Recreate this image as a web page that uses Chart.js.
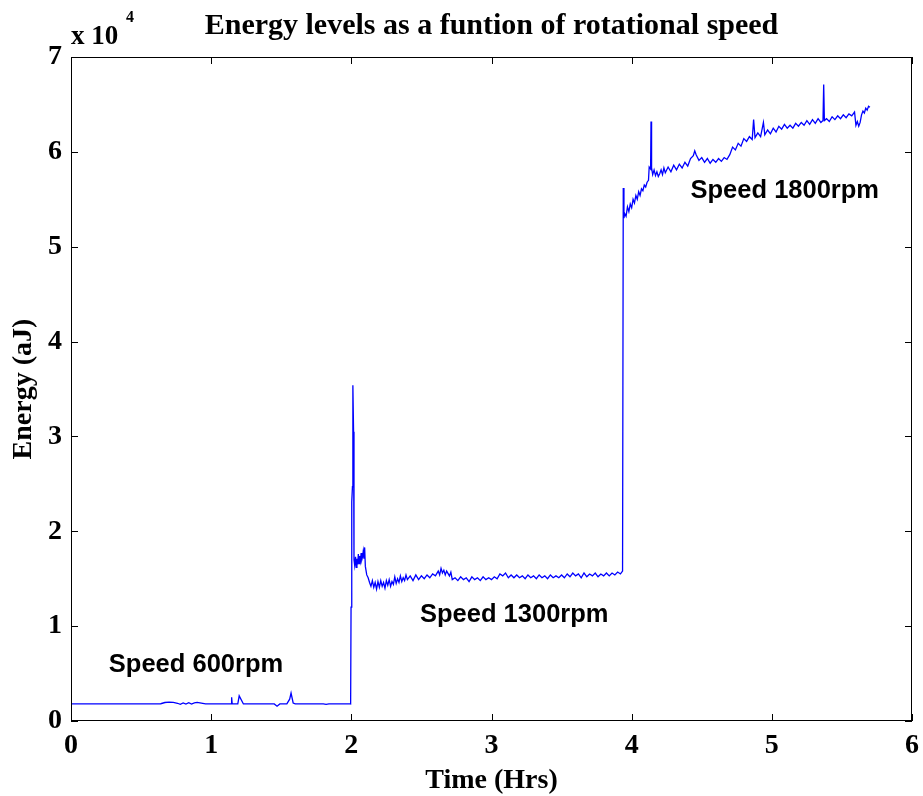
<!DOCTYPE html>
<html>
<head>
<meta charset="utf-8">
<title>Energy levels</title>
<script src="https://cdn.jsdelivr.net/npm/chart.js@4.4.1/dist/chart.umd.min.js"></script>
<style>
  html, body { margin: 0; padding: 0; background: #fff; }
  #wrap { width: 923px; height: 796px; }
</style>
</head>
<body>
<div id="wrap"><canvas id="myChart" width="923" height="796"></canvas></div>
<script>
'use strict';

// speed 600rpm part (time in hours, energy in aJ)
let t600 = [0, 0.30, 0.60, 0.64, 0.67, 0.70, 0.73, 0.76, 0.78, 0.80, 0.82, 0.84, 0.86, 0.88, 0.90, 0.93, 0.96,
  1.10, 1.143, 1.146, 1.15, 1.18, 1.19, 1.20, 1.23, 1.40, 1.45, 1.47, 1.49, 1.54, 1.56, 1.57, 1.585, 1.60,
  1.80, 1.82, 1.84, 1.993];
let e600 = [1800, 1800, 1800, 1820, 1950, 1980, 1960, 1870, 1760, 1900, 1780, 1930, 1790, 1920, 1960, 1880, 1800,
  1800, 1800, 2500, 1800, 1800, 1800, 2650, 1800, 1800, 1800, 1560, 1800, 1800, 2300, 2950, 1900, 1800,
  1800, 1750, 1800, 1810];

// speed 1300rpm part
let t1300 = [1.995, 1.998, 2.003, 2.008, 2.011, 2.016, 2.019, 2.024, 2.03, 2.035, 2.04, 2.045, 2.05, 2.055, 2.06,
  2.065, 2.07, 2.075, 2.08, 2.085, 2.09, 2.095, 2.10, 2.11, 2.12, 2.13,
  2.14, 2.15, 2.16, 2.17, 2.18, 2.19, 2.20, 2.21, 2.22, 2.23, 2.24, 2.25, 2.26, 2.27, 2.28, 2.29, 2.30,
  2.31, 2.32, 2.33, 2.34, 2.35, 2.36, 2.37, 2.38, 2.39, 2.40, 2.42, 2.44, 2.46, 2.48, 2.50, 2.52, 2.54,
  2.56, 2.58, 2.60, 2.62, 2.63, 2.64, 2.65, 2.66, 2.67, 2.68, 2.70, 2.71, 2.72, 2.74, 2.76, 2.78, 2.80,
  2.82, 2.84, 2.86, 2.88, 2.90, 2.92, 2.94, 2.96, 2.98, 3.00, 3.02, 3.04, 3.06, 3.08, 3.10, 3.12, 3.14,
  3.16, 3.18, 3.20, 3.22, 3.24, 3.26, 3.28, 3.30, 3.32, 3.34, 3.36, 3.38, 3.40, 3.42, 3.44, 3.46, 3.48,
  3.50, 3.52, 3.54, 3.56, 3.58, 3.60, 3.62, 3.64, 3.66, 3.68, 3.70, 3.72, 3.74, 3.76, 3.78, 3.80, 3.82,
  3.84, 3.86, 3.88, 3.90, 3.92, 3.935];
let e1300 = [1800, 12000, 23100, 24700, 35400, 30500, 17000, 16400, 17300, 16200, 17100, 16500, 17600, 16600, 17400,
  16900, 17700, 17000, 17300, 17900, 17100, 18300, 16300, 15400, 15100, 14600,
  14200, 14800, 14100, 14600, 13900, 14700, 14100, 14800, 14200, 14600, 14000, 14800, 14300, 14900, 14200, 14700, 14400,
  15200, 14500, 15000, 14600, 15300, 14700, 15100, 14800, 15400, 14900, 15300, 14800, 15400, 14900, 15300, 15000, 15400,
  15100, 15500, 15300, 15800, 15400, 16100, 15600, 15900, 15400, 15800, 15300, 15700, 14900, 15100, 14800, 15200, 14900,
  15100, 14700, 15200, 14900, 15100, 14800, 15200, 14900, 15100, 14900, 15200, 15000, 15500, 15300, 15600, 15100, 15400,
  15100, 15400, 15100, 15300, 15000, 15400, 15100, 15300, 15000, 15400, 15100, 15300, 15000, 15400, 15100, 15300, 15100,
  15400, 15100, 15500, 15200, 15600, 15300, 15500, 15100, 15600, 15200, 15500, 15300, 15600, 15200, 15500, 15300, 15600,
  15300, 15600, 15400, 15700, 15500, 15800];

// speed 1800rpm part
let t1800 = [3.94, 3.945, 3.95, 3.96, 3.97, 3.98, 3.99, 4.00, 4.01, 4.02, 4.03, 4.04, 4.05, 4.06, 4.07, 4.08, 4.09,
  4.10, 4.11, 4.12, 4.125, 4.135, 4.138, 4.142, 4.15, 4.16, 4.17, 4.18, 4.19, 4.20, 4.21, 4.22, 4.23, 4.24,
  4.26, 4.28, 4.30, 4.32, 4.34, 4.36, 4.38, 4.40, 4.42, 4.44, 4.45, 4.46, 4.48, 4.50, 4.52, 4.54, 4.56, 4.58,
  4.60, 4.62, 4.64, 4.66, 4.68, 4.70, 4.72, 4.74, 4.76, 4.78, 4.80, 4.82, 4.84, 4.86, 4.87, 4.88, 4.90, 4.92,
  4.94, 4.95, 4.97, 4.99, 5.01, 5.03, 5.05, 5.07, 5.09, 5.11, 5.13, 5.15, 5.17, 5.19, 5.21, 5.23, 5.25, 5.27,
  5.29, 5.31, 5.33, 5.35, 5.365, 5.37, 5.375, 5.39, 5.41, 5.43, 5.45, 5.47, 5.49, 5.51, 5.53, 5.55, 5.57, 5.59,
  5.60, 5.61, 5.62, 5.63, 5.64, 5.65, 5.66, 5.67, 5.68, 5.69, 5.70];
let e1800 = [56200, 53000, 53500, 53200, 54200, 53700, 54500, 54100, 55000, 54600, 55400, 55000, 55800, 55400, 56100, 55900, 56500,
  56300, 56800, 57000, 58400, 58200, 63200, 58300, 57600, 58100, 57500, 57900, 57400, 57700, 58100, 57600, 58300, 57800,
  58400, 57900, 58600, 58100, 58700, 58300, 58900, 58500, 59300, 59600, 60100, 59700, 59100, 59400, 58900, 59300, 58800, 59200,
  58900, 59300, 59000, 59400, 59200, 59700, 60500, 60200, 60900, 60600, 61400, 61100, 61600, 61300, 63400, 61500, 62000, 61600,
  63100, 61800, 62300, 61900, 62500, 62100, 62700, 62400, 62900, 62500, 62800, 62500, 63000, 62700, 63100, 62800, 63300, 62900,
  63400, 63000, 63500, 63100, 63300, 67100, 63300, 63500, 63200, 63700, 63400, 63800, 63500, 63900, 63600, 64000, 63800, 64200,
  62800, 63200, 62700, 63100, 63900, 64300, 64100, 64600, 64400, 64800, 64700];

let xTicks = [0, 1, 2, 3, 4, 5, 6];
let yTicks = [0, 10000, 20000, 30000, 40000, 50000, 60000, 70000];

let noteText = ['Speed 600rpm', 'Speed 1300rpm', 'Speed 1800rpm'];
let noteTime = [0.27, 2.49, 4.42];
let noteEnergy = [5900, 11200, 55900];

let allTime = t600.concat(t1300, t1800);
let allEnergy = e600.concat(e1300, e1800);
let points = [];
for (let i = 0; i < allTime.length; i++) {
  points.push({ x: allTime[i], y: allEnergy[i] });
}

let serif = "'Liberation Serif', 'Times New Roman', serif";
let sans = "'Liberation Sans', Arial, sans-serif";

// matlab style box, inward ticks, text notes and the x 10^4 mark
let matlabBox = {
  id: 'matlabBox',
  afterDatasetsDraw(chart) {
    let ctx = chart.ctx;
    let area = chart.chartArea;
    let xs = chart.scales.x;
    let ys = chart.scales.y;
    ctx.save();
    ctx.strokeStyle = '#000';
    ctx.lineWidth = 1;
    ctx.strokeRect(area.left + 0.5, area.top + 0.5, area.right - area.left - 1, area.bottom - area.top - 1);
    ctx.beginPath();
    xTicks.forEach(function (v) {
      let px = Math.round(xs.getPixelForValue(v)) + 0.5;
      ctx.moveTo(px, area.bottom);
      ctx.lineTo(px, area.bottom - 7);
      ctx.moveTo(px, area.top);
      ctx.lineTo(px, area.top + 7);
    });
    yTicks.forEach(function (v) {
      let py = Math.round(ys.getPixelForValue(v)) + 0.5;
      ctx.moveTo(area.left, py);
      ctx.lineTo(area.left + 7, py);
      ctx.moveTo(area.right, py);
      ctx.lineTo(area.right - 7, py);
    });
    ctx.stroke();

    ctx.fillStyle = '#000';
    ctx.font = 'bold 25.5px ' + sans;
    ctx.textBaseline = 'middle';
    ctx.textAlign = 'left';
    for (let i = 0; i < noteText.length; i++) {
      ctx.fillText(noteText[i], xs.getPixelForValue(noteTime[i]), ys.getPixelForValue(noteEnergy[i]));
    }

    ctx.textBaseline = 'alphabetic';
    ctx.font = 'bold 27px ' + serif;
    ctx.fillText('x 10', area.left, area.top - 13.5);
    ctx.font = 'bold 16px ' + serif;
    ctx.fillText('4', area.left + 55, area.top - 35);
    ctx.restore();
  }
};

let ctx = document.getElementById('myChart').getContext('2d');

let chart = new Chart(ctx, {
  type: 'scatter',
  data: {
    datasets: [
      {
        label: 'Energy',
        data: points,
        showLine: true,
        borderColor: '#0000ff',
        backgroundColor: '#0000ff',
        borderWidth: 1.3,
        pointRadius: 0,
        tension: 0
      }
    ]
  },
  options: {
    responsive: false,
    animation: false,
    layout: { padding: { left: 0, right: 11, top: 0, bottom: 0 } },
    plugins: {
      legend: { display: false },
      tooltip: { enabled: false },
      title: {
        display: true,
        fullSize: false,
        text: 'Energy levels as a funtion of rotational speed',
        color: '#000',
        font: { family: serif, size: 30, weight: 'bold', lineHeight: 1 },
        padding: { top: 11, bottom: 16 }
      }
    },
    scales: {
      x: {
        type: 'linear',
        min: 0,
        max: 6,
        grid: { display: false, drawTicks: false },
        border: { display: false },
        ticks: {
          stepSize: 1,
          color: '#000',
          padding: 8,
          font: { family: serif, size: 28, weight: 'bold' }
        },
        title: {
          display: true,
          text: 'Time (Hrs)',
          color: '#000',
          font: { family: serif, size: 28, weight: 'bold', lineHeight: 1 },
          padding: { top: 0, bottom: 1 }
        },
        afterFit: function (scale) {
          scale.height = 75;
          scale.paddingRight = 0;
        }
      },
      y: {
        type: 'linear',
        min: 0,
        max: 70000,
        grid: { display: false, drawTicks: false },
        border: { display: false },
        ticks: {
          stepSize: 10000,
          color: '#000',
          padding: 9,
          font: { family: serif, size: 28, weight: 'bold' },
          callback: function (v) { return v / 10000; }
        },
        title: {
          display: true,
          text: 'Energy (aJ)',
          color: '#000',
          font: { family: serif, size: 28, weight: 'bold', lineHeight: 1 },
          padding: { top: 10, bottom: 0 }
        },
        afterFit: function (scale) { scale.width = 71; }
      }
    }
  },
  plugins: [matlabBox]
});
</script>
</body>
</html>
